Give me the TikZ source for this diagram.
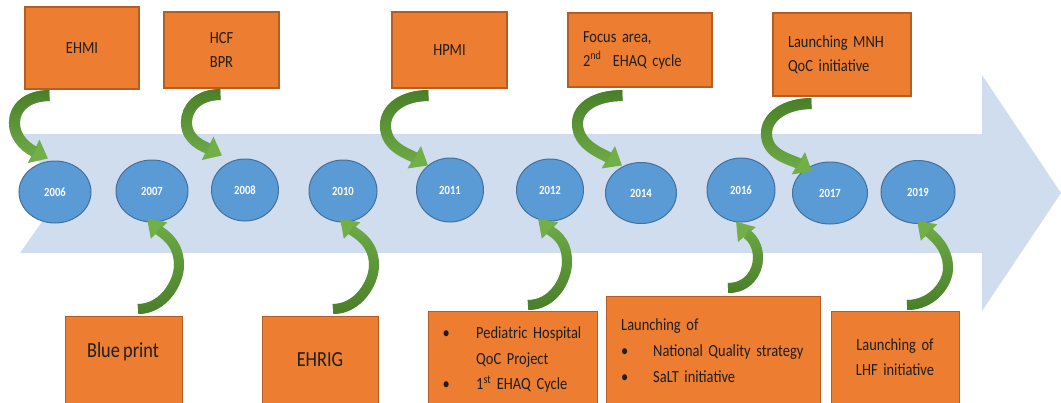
\documentclass[tikz,border=0pt]{standalone}
\usepackage{fontspec}
\setmainfont{Carlito}[FakeStretch=0.85, WordSpace=0.8]
\usetikzlibrary{calc,arrows.meta,fadings,shapes.geometric}
\definecolor{band}{HTML}{D0DDEE}
\definecolor{orangebox}{HTML}{ED7D31}
\definecolor{orangeedge}{HTML}{B55D22}
\definecolor{yearfill}{HTML}{5B9BD5}
\definecolor{yearedge}{HTML}{41719C}
\definecolor{greenlight}{HTML}{72AF49}
\definecolor{greendark}{HTML}{4A7F2A}
\definecolor{txt}{HTML}{1E1E1E}
\tikzfading[name=fadedown, top color=transparent!0, bottom color=transparent!100]
\tikzfading[name=fadeup, top color=transparent!100, bottom color=transparent!0]
\begin{document}
\begin{tikzpicture}[x=1pt,y=-1pt,
  year/.style={ellipse, draw=yearedge, line width=1pt, fill=yearfill, inner sep=0pt,
    text=white, font=\fontsize{12.5}{13}\selectfont\bfseries},
  box/.style={rectangle, draw=orangeedge, line width=1.1pt, fill=orangebox, inner sep=0pt,
    text=txt, font=\fontsize{17}{24}\selectfont},
  boxtext/.style={text=txt, inner sep=0pt, font=\fontsize{17}{25.5}\selectfont},
  bigtext/.style={text=txt, inner sep=0pt, font=\fontsize{21.5}{26}\selectfont},
  toparrow/.style={draw=greenlight, line width=11pt, -{Triangle[width=25pt,length=16pt]},
    postaction={draw=greendark, path fading=fadedown, arrows=-, shorten >=15pt}},
  botarrow/.style={draw=greenlight, line width=10pt, -{Triangle[width=22pt,length=17pt]},
    postaction={draw=greendark, path fading=fadeup, arrows=-, shorten >=16pt}}
]
\useasboundingbox (0,0) rectangle (1061,402);
\clip (0,0) rectangle (1061,402);

% timeline band
\fill[band] (18,134) -- (982,134) -- (982,75) -- (1061,193) -- (982,311)
  -- (982,253) -- (20,253) -- (62,193) -- cycle;

% years
\node[year, minimum width=72pt, minimum height=62pt] (e2006) at (55,192) {2006};
\node[year, minimum width=72pt, minimum height=62pt] (e2007) at (152,191) {2007};
\node[year, minimum width=67pt, minimum height=62pt] (e2008) at (245,190) {2008};
\node[year, minimum width=68pt, minimum height=62pt] (e2010) at (343,191) {2010};
\node[year, minimum width=67pt, minimum height=64pt] (e2011) at (450,190) {2011};
\node[year, minimum width=67pt, minimum height=62pt] (e2012) at (550,190) {2012};
\node[year, minimum width=71pt, minimum height=61pt] (e2014) at (641,193) {2014};
\node[year, minimum width=68pt, minimum height=64pt] (e2016) at (741,190) {2016};
\node[year, minimum width=75pt, minimum height=62pt] (e2017) at (830,193) {2017};
\node[year, minimum width=74pt, minimum height=63pt] (e2019) at (918,192) {2019};

% top boxes
\node[box, minimum width=114pt, minimum height=82pt] (ehmi) at (82,48) {EHMI};
\node[box, minimum width=115pt, minimum height=76pt, align=center] (hcf) at (221.5,50) {HCF\\BPR};
\node[box, minimum width=115pt, minimum height=76pt] (hpmi) at (449.5,50) {HPMI};
\node[box, minimum width=144pt, minimum height=74pt, text width=114pt, align=left] (focus) at (640,50)
  {Focus area,\\2\textsuperscript{nd}\ \ EHAQ cycle};
\node[box, minimum width=138pt, minimum height=83pt, text width=108pt, align=left] (mnh) at (842,54.5)
  {Launching MNH\\QoC initiative};

% bottom boxes
\node[box, anchor=north west, minimum width=117pt, minimum height=110pt] (bp) at (65,316) {};
\node[box, anchor=north west, minimum width=116pt, minimum height=110pt] (ehrig) at (262,316) {};
\node[box, anchor=north west, minimum width=169pt, minimum height=110pt] (ped) at (428,311) {};
\node[box, anchor=north west, minimum width=214pt, minimum height=120pt] (nat) at (606,296) {};
\node[box, anchor=north west, minimum width=128pt, minimum height=110pt] (lhf) at (831,311) {};

\node[bigtext, anchor=base] (bptext) at (123,357) {Blue print};
\node[bigtext, anchor=base] (ehrigtext) at (320,366) {EHRIG};
\node[boxtext, anchor=base west, text width=160pt, align=left] (pedtext) at (442.5,338.5)
  {\makebox[33.5pt][l]{\textbullet}Pediatric Hospital\\\hspace*{33.5pt}QoC Project\\
   \makebox[33.5pt][l]{\textbullet}1\textsuperscript{st} EHAQ Cycle};
\node[boxtext, anchor=base west, text width=200pt, align=left, font=\fontsize{17}{26}\selectfont] (nattext) at (621,330)
  {Launching of\\\makebox[32pt][l]{\textbullet}National Quality strategy\\
   \makebox[32pt][l]{\textbullet}SaLT initiative};
\node[boxtext, anchor=base, text width=124pt, align=center, font=\fontsize{17}{25}\selectfont] (lhftext) at (895,350)
  {Launching of\\LHF initiative};

% curved arrows from top boxes
\draw[toparrow] ($(ehmi.south west)+(25,6)$) .. controls +(-22,0) and +(0,-15) ..
  ($(ehmi.south west)+(-10,33)$) .. controls +(0,18) and +(-18,-9) .. ($(e2006.north)+(-7,-2)$);
\draw[toparrow] ($(hcf.south west)+(57,6)$) .. controls +(-22,0) and +(0,-15) ..
  ($(hcf.south west)+(23,34)$) .. controls +(0,18) and +(-18,-9) .. ($(e2008.north)+(-23,-3)$);
\draw[toparrow] ($(hpmi.south west)+(37,7)$) .. controls +(-26,0) and +(0,-17) ..
  ($(hpmi.south west)+(-6,37)$) .. controls +(0,22) and +(-20,-12) .. ($(e2011.north)+(-22,8)$);
\draw[toparrow] ($(focus.south west)+(55,8)$) .. controls +(-26,0) and +(0,-17) ..
  ($(focus.south west)+(10,36)$) .. controls +(0,22) and +(-20,-12) .. ($(e2014.north)+(-19,3.5)$);
\draw[toparrow] ($(mnh.south west)+(39,7)$) .. controls +(-26,0) and +(0,-17) ..
  ($(mnh.south west)+(-6,37)$) .. controls +(0,22) and +(-20,-12) .. ($(e2017.north)+(-18,10)$);

% curved arrows from bottom boxes
\draw[botarrow] ($(bp.north west)+(73,-7)$) .. controls +(25,0) and +(0,18) ..
  ($(bp.north west)+(114,-51)$) .. controls +(0,-24) and +(14,14) .. ($(e2007.south)+(-5,-4)$);
\draw[botarrow] ($(ehrig.north west)+(71,-7)$) .. controls +(25,0) and +(0,18) ..
  ($(ehrig.north west)+(112,-51)$) .. controls +(0,-24) and +(14,14) .. ($(e2010.south)+(-3,-4)$);
\draw[botarrow] ($(ped.north west)+(100,-6)$) .. controls +(25,0) and +(0,18) ..
  ($(ped.north west)+(139,-49)$) .. controls +(0,-24) and +(14,14) .. ($(e2012.south)+(-12,-3)$);
\draw[botarrow] ($(nat.north west)+(122,-8)$) .. controls +(20,0) and +(0,14) ..
  ($(nat.north west)+(152,-38)$) .. controls +(0,-18) and +(10,12) .. ($(e2016.south)+(-5,-1)$);
\draw[botarrow] ($(lhf.north west)+(76,-6)$) .. controls +(25,0) and +(0,16) ..
  ($(lhf.north west)+(117,-43)$) .. controls +(0,-22) and +(14,14) .. ($(e2019.south)+(-1,-3.5)$);
\end{tikzpicture}
\end{document}
